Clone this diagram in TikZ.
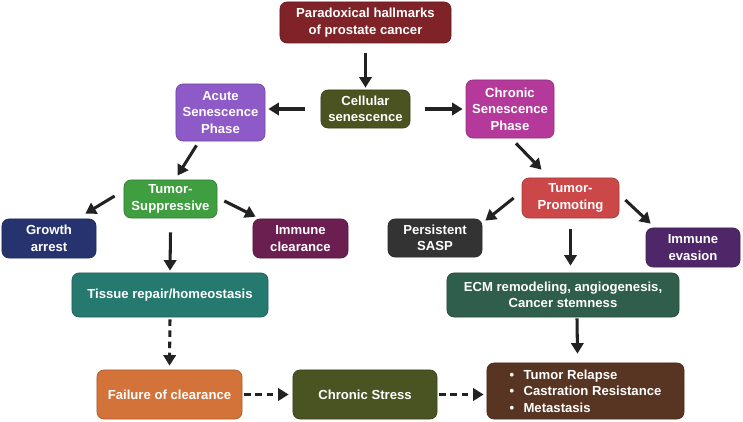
\documentclass[tikz,border=0pt]{standalone}
\usepackage{fontspec}
\setmainfont{Liberation Sans}
\usetikzlibrary{arrows.meta}
\definecolor{hallmark}{HTML}{7F2328}
\definecolor{cellular}{HTML}{4B5320}
\definecolor{acute}{HTML}{8E5AC8}
\definecolor{chronic}{HTML}{B5399A}
\definecolor{suppress}{HTML}{3F9E40}
\definecolor{promote}{HTML}{CC4747}
\definecolor{growth}{HTML}{27336E}
\definecolor{clearance}{HTML}{6B1F50}
\definecolor{repair}{HTML}{25796F}
\definecolor{sasp}{HTML}{333333}
\definecolor{evasion}{HTML}{4F2768}
\definecolor{ecm}{HTML}{2F5E4C}
\definecolor{failure}{HTML}{D3733A}
\definecolor{stress}{HTML}{4A5322}
\definecolor{outcome}{HTML}{583422}
\definecolor{arrowink}{HTML}{222222}
\tikzset{
  box/.style={draw=#1!80!black, fill=#1, line width=0.6pt, rounded corners=6pt,
    text=white, font=\bfseries\fontsize{11.2}{14}\selectfont, align=center, inner sep=1pt},
  flow/.style={-{Triangle[length=9pt,width=10.5pt]}, line width=2.6pt, draw=arrowink},
  dflow/.style={flow, dash pattern=on 5.5pt off 4pt},
}
\begin{document}
\begin{tikzpicture}[x=0.03cm, y=-0.03cm]
\useasboundingbox (0,0) rectangle (743,422);
\node[box=hallmark, minimum width=5.13cm, minimum height=1.23cm] (hallmarks) at (365.5,22.5) {Paradoxical hallmarks\\of prostate cancer};
\node[box=cellular, minimum width=2.67cm, minimum height=1.14cm] (cellsen) at (365.5,109) {Cellular\\senescence};
\node[box=acute, minimum width=2.67cm, minimum height=1.71cm] (acute) at (220.5,112.5) {Acute\\Senescence\\Phase};
\node[box=chronic, minimum width=2.64cm, minimum height=1.74cm] (chronic) at (510,109) {Chronic\\Senescence\\Phase};
\node[box=suppress, minimum width=2.79cm, minimum height=1.14cm] (supp) at (170.5,199) {Tumor-\\Suppressive};
\node[box=promote, minimum width=2.91cm, minimum height=1.2cm] (prom) at (570.5,198) {Tumor-\\Promoting};
\node[box=growth, minimum width=2.82cm, minimum height=1.17cm] (growth) at (49,238.5) {Growth\\arrest};
\node[box=clearance, minimum width=2.85cm, minimum height=1.17cm] (immclear) at (300.5,238.5) {Immune\\clearance};
\node[box=sasp, minimum width=2.82cm, minimum height=1.14cm] (sasp) at (435,238) {Persistent\\SASP};
\node[box=evasion, minimum width=2.82cm, minimum height=1.17cm] (evasion) at (693,247.5) {Immune\\evasion};
\node[box=repair, minimum width=5.88cm, minimum height=1.32cm] (repair) at (170,295) {Tissue repair/homeostasis};
\node[box=ecm, minimum width=6.96cm, minimum height=1.32cm] (ecm) at (563,295) {ECM remodeling, angiogenesis,\\Cancer stemness};
\node[box=failure, minimum width=4.35cm, minimum height=1.47cm] (failure) at (169.5,394.5) {Failure of clearance};
\node[box=stress, minimum width=4.32cm, minimum height=1.47cm] (stress) at (365,394.5) {Chronic Stress};
\node[box=outcome, minimum width=5.91cm, minimum height=1.68cm, align=left] (outcome) at (585.5,391) {\textbullet\hspace{8pt}Tumor Relapse\\\textbullet\hspace{8pt}Castration Resistance\\\textbullet\hspace{8pt}Metastasis};
\draw[flow] ([shift={(0,10)}]hallmarks.south) -- ([shift={(0,-2)}]cellsen.north);
\draw[flow] ([shift={(-16,0)}]cellsen.west) -- ([shift={(3,0)}]cellsen.west -| acute.east);
\draw[flow] ([shift={(15,0)}]cellsen.east) -- ([shift={(-3,0)}]cellsen.east -| chronic.west);
\draw[flow] ([shift={(-24,4)}]acute.south) -- ([shift={(7,-4)}]supp.north);
\draw[flow] ([shift={(6,5)}]chronic.south) -- ([shift={(-29,-8)}]prom.north);
\draw[flow] ([shift={(-9,-3)}]supp.west) -- ([shift={(-11,-5)}]growth.north east);
\draw[flow] ([shift={(7,2)}]supp.east) -- ([shift={(3,-2)}]immclear.north west);
\draw[flow] ([shift={(0,14)}]supp.south) -- ([shift={(0,-2)}]repair.north);
\draw[flow] ([shift={(-8,0)}]prom.west) -- ([shift={(3,2)}]sasp.north east);
\draw[flow] ([shift={(6,2)}]prom.east) -- ([shift={(5,-4)}]evasion.north west);
\draw[flow] ([shift={(0,11)}]prom.south) -- ([shift={(0,-7)}]prom.south |- ecm.north);
\draw[flow] ([shift={(14,1)}]ecm.south) -- ([shift={(-8,-9)}]outcome.north);
\draw[dflow] ([shift={(0,2)}]repair.south) -- ([shift={(0,-4)}]failure.north);
\draw[dflow] ([shift={(2,0)}]failure.east) -- ([shift={(-4,0)}]stress.west);
\draw[dflow] ([shift={(2,0)}]stress.east) -- ([shift={(-3,0)}]stress.east -| outcome.west);
\end{tikzpicture}
\end{document}
